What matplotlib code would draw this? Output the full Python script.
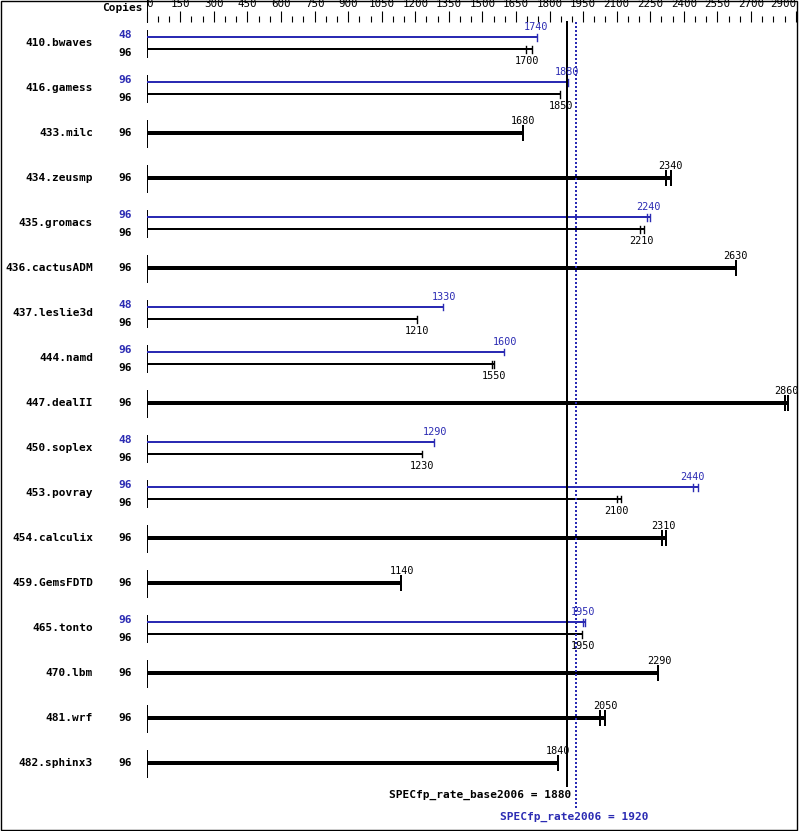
import matplotlib
matplotlib.use("Agg")
import matplotlib.pyplot as plt
import matplotlib.transforms as mtrans
import numpy as np

benchmarks = ["410.bwaves", "416.gamess", "433.milc", "434.zeusmp", "435.gromacs",
              "436.cactusADM", "437.leslie3d", "444.namd", "447.dealII", "450.soplex",
              "453.povray", "454.calculix", "459.GemsFDTD", "465.tonto", "470.lbm",
              "481.wrf", "482.sphinx3"]
base_copies = [96] * 17
base_ratio = [1700, 1850, 1680, 2340, 2210, 2630, 1210, 1550, 2860, 1230,
              2100, 2310, 1140, 1950, 2290, 2050, 1840]
base_lo = [1695, 1848, 1682, 2319, 2206, 2633, 1208, 1543, 2852, 1230,
           2100, 2304, 1137, 1946, 2285, 2027, 1838]
base_hi = [1722, 1848, 1682, 2343, 2221, 2633, 1208, 1552, 2864, 1230,
           2118, 2319, 1137, 1946, 2285, 2048, 1838]
# None = no separate peak run
peak_copies = [48, 96, None, None, 96, None, 48, 96, None, 48,
               96, None, None, 96, None, None, None]
peak_ratio = [1740, 1880, None, None, 2240, None, 1330, 1600, None, 1290,
              2440, None, None, 1950, None, None, None]
peak_lo = [1742, 1881, None, None, 2234, None, 1325, 1597, None, 1284,
           2440, None, None, 1950, None, None, None]
peak_hi = [1742, 1881, None, None, 2249, None, 1325, 1597, None, 1284,
           2465, None, None, 1958, None, None, None]
major_ticks = [0, 150, 300, 450, 600, 750, 900, 1050, 1200, 1350, 1500, 1650,
               1800, 1950, 2100, 2250, 2400, 2550, 2700, 2900]
base_score = 1880
peak_score = 1920

blue = "#2b2bb3"
W, H = 799, 831
px = 0.72  # points per pixel at dpi 100
mono = "DejaVu Sans Mono"

fig = plt.figure(figsize=(W / 100, H / 100), dpi=100)
ax = fig.add_axes([146.7 / W, 0, (797 - 146.7) / W, (H - 22) / H])
ax.set_xlim(0, (797 - 146.7) / 0.2238)
row = lambda ypix: (ypix - 43) / 45.0
ax.set_ylim(row(H), row(22))
for s in ax.spines.values():
    s.set_visible(False)

ax.xaxis.tick_top()
ax.set_xticks(major_ticks)
ax.set_xticks(np.arange(0, 2901, 50), minor=True)
ax.tick_params(axis="x", which="major", length=8, width=0.8, pad=1.5,
               labelsize=7.8, direction="out")
ax.tick_params(axis="x", which="minor", length=4, width=0.8, direction="out")
ax.set_yticks([])
labs = ax.get_xticklabels()
for t in labs:
    t.set_family(mono)
labs[0].set_ha("left")
labs[-1].set_ha("right")

off = 6 / 45.0

for i, name in enumerate(benchmarks):
    ax.plot([0, 0], [i - 13 / 45, i + 14 / 45], color="black", lw=1 * px, clip_on=False)
    fig.text(93 / W, 1 - (43 + 45 * i) / H, name, ha="right", va="center",
             family=mono, weight="bold", fontsize=8)
    if peak_ratio[i] is None:
        ax.plot([0, base_hi[i]], [i, i], color="black", lw=4 * px, solid_capstyle="butt")
        for v in {base_lo[i], base_hi[i]}:
            ax.plot([v, v], [i - 7 / 45, i + 7 / 45], color="black", lw=2 * px, clip_on=False)
        ax.text(base_ratio[i], i - 12 / 45, str(base_ratio[i]), ha="center", va="center",
                family=mono, fontsize=7.3)
        fig.text(132 / W, 1 - (43 + 45 * i) / H, str(base_copies[i]), ha="right",
                 va="center", family=mono, weight="bold", fontsize=8)
    else:
        yp, yb = i - off, i + off
        ax.plot([0, peak_hi[i]], [yp, yp], color=blue, lw=2 * px, solid_capstyle="butt")
        ax.plot([0, base_hi[i]], [yb, yb], color="black", lw=2 * px, solid_capstyle="butt")
        for v in {peak_lo[i], peak_hi[i]}:
            ax.plot([v, v], [yp - 3.5 / 45, yp + 3.5 / 45], color=blue, lw=1.4 * px)
        for v in {base_lo[i], base_hi[i]}:
            ax.plot([v, v], [yb - 3.5 / 45, yb + 3.5 / 45], color="black", lw=1.4 * px)
        ax.text(peak_ratio[i], yp - 10 / 45, str(peak_ratio[i]), ha="center", va="center",
                family=mono, fontsize=7.3, color=blue)
        ax.text(base_ratio[i], yb + 12 / 45, str(base_ratio[i]), ha="center", va="center",
                family=mono, fontsize=7.3)
        fig.text(132 / W, 1 - (43 + 45 * i - 8) / H, str(peak_copies[i]), ha="right",
                 va="center", family=mono, weight="bold", fontsize=8, color=blue)
        fig.text(132 / W, 1 - (43 + 45 * i + 10) / H, str(base_copies[i]), ha="right",
                 va="center", family=mono, weight="bold", fontsize=8)

ax.plot([base_score, base_score], [row(22), row(786)], color="black", lw=2 * px, clip_on=False)
ax.plot([peak_score, peak_score], [row(22), row(808)], color=blue, lw=2 * px,
        ls=(0, (1, 1)), clip_on=False)

fig.text(571 / W, 1 - 795 / H, "SPECfp_rate_base2006 = %d" % base_score, ha="right",
         va="center", family=mono, weight="bold", fontsize=8)
fig.text(574.5 / W, 1 - 817 / H, "SPECfp_rate2006 = %d" % peak_score, ha="center",
         va="center", family=mono, weight="bold", fontsize=8, color=blue)
fig.text(143 / W, 1 - 8 / H, "Copies", ha="right", va="center", family=mono,
         weight="bold", fontsize=8)

# separator at left of axis scale, and outer frame
fig.add_artist(plt.Line2D([146.7 / W, 146.7 / W], [1, 1 - 22 / H], color="black", lw=1 * px))
fig.add_artist(plt.Rectangle((0.5 / W, 1.5 / H), (W - 3) / W, (H - 2.5) / H, fill=False,
                             edgecolor="black", lw=1.4 * px, transform=fig.transFigure))

fig.savefig("out.png", dpi=100)
